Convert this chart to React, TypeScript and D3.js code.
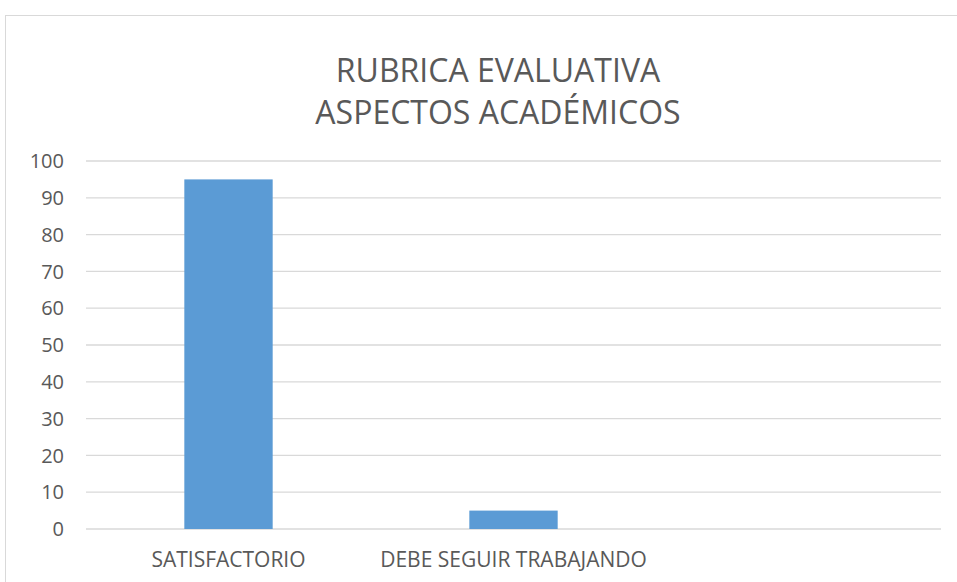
import * as d3 from "d3";
import { useEffect, useRef } from "react";

const categories = ["SATISFACTORIO", "DEBE SEGUIR TRABAJANDO", ""];
const values = [95, 5, null];
const yTicks = [0, 10, 20, 30, 40, 50, 60, 70, 80, 90, 100];
const titleLines = ["RUBRICA EVALUATIVA", "ASPECTOS ACADÉMICOS"];

const App = () => {
  const ref = useRef<SVGSVGElement>(null);

  useEffect(() => {
    const width = 957;
    const height = 582;
    const left = 86;
    const right = 941;
    const top = 161;
    const bottom = 529;
    const font = "'Open Sans', sans-serif";

    const svg = d3.select(ref.current);
    svg.selectAll("*").remove();
    svg.attr("width", width).attr("height", height);

    svg.append("rect")
      .attr("width", width).attr("height", height)
      .attr("fill", "#fff");

    // chart frame, runs off the right and bottom of the picture
    svg.append("rect")
      .attr("x", 5.5).attr("y", 15.5)
      .attr("width", 985).attr("height", 600)
      .attr("fill", "none")
      .attr("stroke", "#d9d9d9")
      .attr("stroke-width", 1);

    const x = d3.scaleBand()
      .domain(categories.map((c, i) => String(i)))
      .range([left, right])
      .paddingInner(0.69)
      .paddingOuter(0.345);

    const y = d3.scaleLinear().domain([0, 100]).range([bottom, top]);

    // grid lines
    svg.append("g")
      .selectAll("line")
      .data(yTicks)
      .enter()
      .append("line")
      .attr("x1", left).attr("x2", right)
      .attr("y1", (d) => y(d)).attr("y2", (d) => y(d))
      .attr("stroke", "#d9d9d9")
      .attr("stroke-width", 1.3);

    // y labels
    svg.append("g")
      .selectAll("text")
      .data(yTicks)
      .enter()
      .append("text")
      .attr("x", 64)
      .attr("y", (d) => y(d))
      .attr("dy", "0.36em")
      .attr("text-anchor", "end")
      .attr("fill", "#595959")
      .style("font-family", font)
      .style("font-size", "20px")
      .text((d) => d);

    // bars
    svg.append("g")
      .selectAll("rect")
      .data(values.map((v, i) => ({ v, i })).filter((d) => d.v != null))
      .enter()
      .append("rect")
      .attr("x", (d) => x(String(d.i))!)
      .attr("width", x.bandwidth())
      .attr("y", (d) => y(d.v as number))
      .attr("height", (d) => y(0) - y(d.v as number))
      .attr("fill", "#5b9bd5");

    // category labels
    const step = (right - left) / categories.length;
    svg.append("g")
      .selectAll("text")
      .data(categories)
      .enter()
      .append("text")
      .attr("x", (d, i) => left + step * (i + 0.5))
      .attr("y", 567)
      .attr("text-anchor", "middle")
      .attr("fill", "#595959")
      .style("font-family", font)
      .style("font-size", "21px")
      .text((d) => d);

    // title
    svg.append("g")
      .selectAll("text")
      .data(titleLines)
      .enter()
      .append("text")
      .attr("x", 498)
      .attr("y", (d, i) => 82 + i * 42)
      .attr("text-anchor", "middle")
      .attr("fill", "#595959")
      .style("font-family", font)
      .style("font-size", "32px")
      .text((d) => d);
  }, []);

  return <svg ref={ref} style={{ position: "absolute", left: 0, top: 0 }} />;
};

export default App;
